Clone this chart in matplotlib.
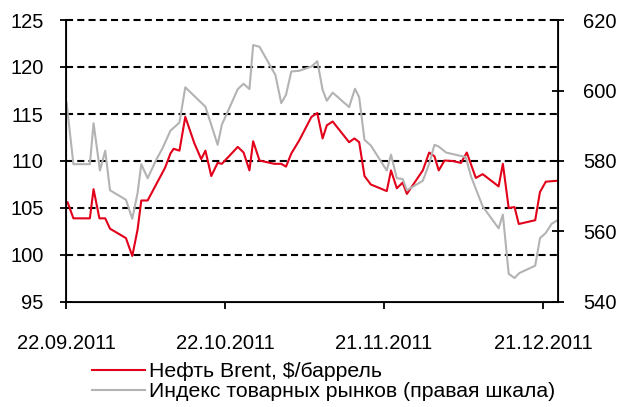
import numpy as np
import pandas as pd
import matplotlib
matplotlib.use('Agg')
import matplotlib.pyplot as plt
import matplotlib.dates as mdates

plt.rcParams['font.family'] = ['Liberation Sans', 'DejaVu Sans']

# Данные (дни от 22.09.2011)
start = pd.Timestamp('2011-09-22')

brent_days = [0.3, 1.4, 4.5, 5.2, 6.3, 7.4, 8.3, 11.3, 12.5, 13.5, 14.2, 15.4, 17.0,
              18.7, 19.7, 20.3, 21.4, 22.5, 24.2, 25.5, 26.3, 27.4, 28.6, 29.4,
              32.4, 33.5, 34.6, 35.3, 36.5, 39.3, 40.6, 41.5, 42.5, 44.0, 46.3,
              47.4, 48.4, 49.2, 50.3, 53.4, 54.4, 55.3, 56.3, 57.5, 60.5, 61.3,
              62.4, 63.5, 64.3, 67.3, 68.5, 69.5, 70.3, 71.4, 72.9, 74.5, 75.6,
              77.3, 78.6, 81.6, 82.4, 83.5, 84.6, 85.4, 88.5, 89.4, 90.5, 92.7]
brent = [105.6, 103.9, 103.9, 107.0, 103.9, 103.9, 102.8, 101.8, 99.9, 102.7, 105.8,
         105.8, 107.5, 109.3, 110.8, 111.3, 111.1, 114.7, 111.9, 110.2, 111.1, 108.4,
         109.8, 109.7, 111.5, 110.9, 109.0, 112.1, 110.05, 109.7, 109.7, 109.4,
         110.8, 112.2, 114.7, 115.1, 112.4, 113.8, 114.2, 112.0, 112.4, 112.0,
         108.4, 107.5, 106.8, 109.0, 107.1, 107.7, 106.5, 109.0, 110.9, 110.5,
         109.0, 110.05, 110.0, 109.8, 110.9, 108.2, 108.6, 107.3, 109.7, 105.0,
         105.1, 103.3, 103.7, 106.7, 107.8, 107.9]

index_days = [0.1, 1.4, 4.5, 5.2, 6.4, 7.4, 8.3, 11.3, 12.5, 13.5, 14.2, 15.4, 17.0,
              18.2, 19.7, 21.4, 22.5, 26.3, 28.6, 29.4, 32.4, 33.5, 34.6, 35.3,
              36.5, 39.5, 40.6, 41.5, 42.5, 44.0, 46.3, 47.4, 48.4, 49.2, 50.3,
              53.4, 54.5, 55.3, 56.3, 57.5, 60.5, 61.3, 62.4, 63.5, 64.3, 67.3,
              68.5, 69.5, 70.3, 71.7, 75.4, 76.4, 78.6, 81.6, 82.4, 83.5, 84.6,
              85.5, 88.5, 89.4, 90.5, 91.6, 92.7]
index_vals = [596.6, 579.1, 579.1, 590.7, 577.3, 582.9, 571.7, 569.0, 563.6, 570.9,
              579.1, 575.1, 580.3, 583.6, 588.6, 590.9, 600.9, 595.4, 584.6, 590.3,
              600.4, 601.9, 600.4, 612.9, 612.4, 604.4, 596.4, 598.8, 605.4, 605.6,
              606.8, 608.3, 600.2, 597.1, 599.4, 595.3, 600.5, 598.1, 586.0, 584.4,
              577.3, 581.8, 575.1, 574.9, 571.7, 574.4, 579.2, 584.6, 584.1, 582.4,
              581.1, 575.6, 567.1, 560.9, 564.8, 548.0, 546.8, 548.2, 550.3, 558.1,
              559.6, 562.2, 563.2]

tick_dates = ['2011-09-22', '2011-10-22', '2011-11-21', '2011-12-21']

brent_x = start + pd.to_timedelta(brent_days, unit='D')
index_x = start + pd.to_timedelta(index_days, unit='D')

fig = plt.figure(figsize=(6.21, 4.07), dpi=100)
ax = fig.add_axes([66/621, 1 - 302/407, (558 - 66)/621, (302 - 20)/407])
ax2 = ax.twinx()

l1, = ax.plot(brent_x, brent, color='#E2001A', lw=1.5, label='Нефть Brent, $/баррель')
l2, = ax2.plot(index_x, index_vals, color='#B3B3B3', lw=1.5,
               label='Индекс товарных рынков (правая шкала)')

ax.set_xlim(start, start + pd.Timedelta(days=92.8))
ax.set_ylim(95, 125)
ax.set_yticks(np.arange(95, 126, 5))
ax2.set_ylim(540, 620)
ax2.set_yticks(np.arange(540, 621, 20))

ax.set_xticks(pd.to_datetime(tick_dates))
ax.xaxis.set_major_formatter(mdates.DateFormatter('%d.%m.%Y'))

for y in range(100, 126, 5):
    ax.axhline(y, color='black', lw=1.5, ls=(0, (3.4, 2.0)), zorder=0, clip_on=False)

ax.spines['top'].set_visible(False)
ax2.spines['top'].set_visible(False)
for s in ['left', 'bottom']:
    ax.spines[s].set_linewidth(1.3)
ax2.spines['right'].set_linewidth(1.3)

ax.tick_params(axis='y', direction='inout', length=8, width=1.3, labelsize=14.5, pad=12)
ax.tick_params(axis='x', direction='out', length=5, width=1.3, labelsize=14.5, pad=18)
ax2.tick_params(axis='y', direction='inout', length=8, width=1.3, labelsize=14.5, pad=14)

fig.legend(handles=[l1, l2], loc='upper left', bbox_to_anchor=(92/621, 1 - 362/407),
           frameon=False, fontsize=15.3, handlelength=2.5, handletextpad=0.2,
           labelspacing=0.05, borderpad=0, borderaxespad=0)

fig.savefig('out.png', dpi=100)
